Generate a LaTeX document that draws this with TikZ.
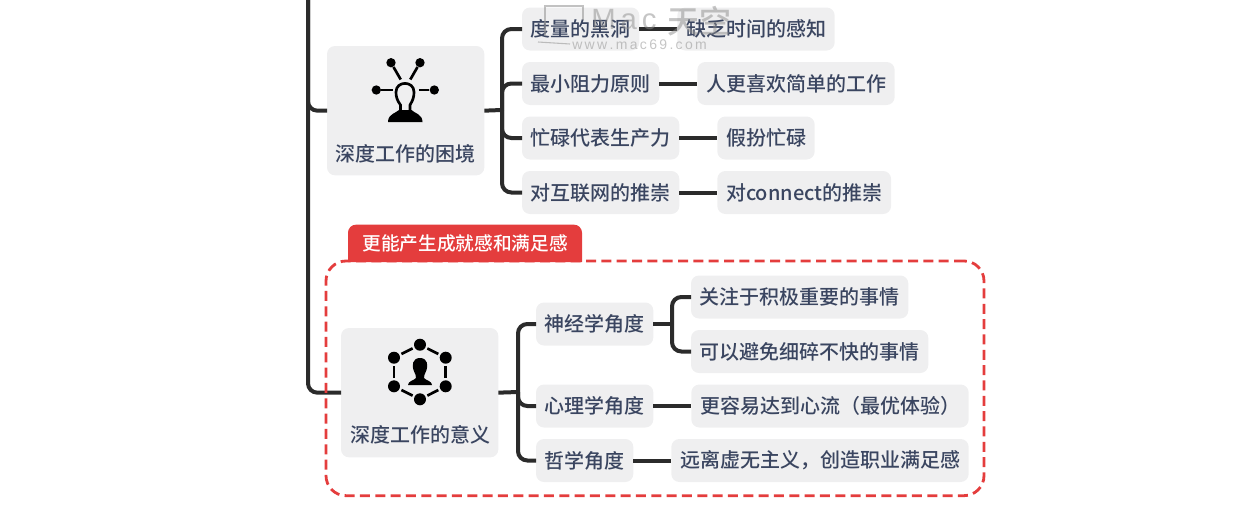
\documentclass[tikz,border=0pt]{standalone}
\usepackage{fontspec}
\setmainfont{Noto Sans CJK SC Medium}
\newfontfamily\markfont{Liberation Sans}
\usetikzlibrary{positioning,backgrounds}
\definecolor{inktext}{HTML}{3A4560}
\definecolor{boxgray}{HTML}{EFEFF0}
\definecolor{linkdark}{HTML}{2B2B2B}
\definecolor{tagred}{HTML}{E43D3D}
\tikzset{
  topicbox/.style={fill=boxgray,rounded corners=6pt,text=inktext,font=\fontsize{15}{18}\selectfont,inner xsep=6.5pt,inner ysep=0pt,outer sep=0pt,minimum height=32.25pt,anchor=west},
  rootbox/.style={fill=boxgray,rounded corners=6pt,outer sep=0pt,minimum width=118pt,minimum height=97pt,anchor=north west},
  roottext/.style={text=inktext,font=\fontsize{15}{18}\selectfont,inner sep=0pt},
  linkline/.style={draw=linkdark,line width=3pt,rounded corners=7pt},
  dot/.style={fill=black,circle,inner sep=0pt,minimum size=#1},
  hexline/.style={line width=2pt,shorten >=1.5pt,shorten <=1.5pt},
  marktext/.style={text=black!45,opacity=0.5,inner sep=0pt},
}
\begin{document}
\begin{tikzpicture}[x=0.75pt,y=-0.75pt,node distance=28.5pt]
  \useasboundingbox (0,0) rectangle (1252,518);
  % upper group
  \node[rootbox] (kun) at (327,46) {};
  \node[roottext] (kuntext) at (405.5,154) {深度工作的困境};
  \node[topicbox] (a1) at (522,29) {度量的黑洞};
  \node[topicbox,right=of a1] (b1) {缺乏时间的感知};
  \node[topicbox] (a2) at (522,83.5) {最小阻力原则};
  \node[topicbox,right=of a2] (b2) {人更喜欢简单的工作};
  \node[topicbox] (a3) at (522,138) {忙碌代表生产力};
  \node[topicbox,right=of a3] (b3) {假扮忙碌};
  \node[topicbox] (a4) at (522,192.5) {对互联网的推崇};
  \node[topicbox,right=of a4] (b4) {对connect的推崇};
  % lower group
  \node[rootbox] (yi) at (341,328) {};
  \node[roottext] (yitext) at (420,435) {深度工作的意义};
  \node[topicbox] (p1) at (536,324) {神经学角度};
  \node[topicbox] (q1) at (691,297) {关注于积极重要的事情};
  \node[topicbox] (q2) at (691,351.5) {可以避免细碎不快的事情};
  \node[topicbox] (p2) at (536,406) {心理学角度};
  \node[topicbox,right=of p2] (q3) {更容易达到心流（最优体验）};
  \node[topicbox] (p3) at (536,460.5) {哲学角度};
  \node[topicbox,right=of p3] (q4) {远离虚无主义，创造职业满足感};
  % connectors
  \coordinate (trunktop) at (308,0);
  \coordinate (kunfork) at (502,110);
  \coordinate (yifork) at (518,392);
  \coordinate (pfork) at (672,324);
  \draw[linkline] (trunktop) |- (kun.west);
  \draw[linkline] (trunktop) |- (yi.west);
  \draw[linkline] (kun.east) -- (kunfork);
  \draw[linkline] (kunfork) |- (a1.west);
  \draw[linkline] (kunfork) |- (a2.west);
  \draw[linkline] (kunfork) |- (a3.west);
  \draw[linkline] (kunfork) |- (a4.west);
  \draw[linkline] (a1) -- (b1);
  \draw[linkline] (a2) -- (b2);
  \draw[linkline] (a3) -- (b3);
  \draw[linkline] (a4) -- (b4);
  \draw[linkline] (yi.east) -- (yifork);
  \draw[linkline] (yifork) |- (p1.west);
  \draw[linkline] (yifork) |- (p2.west);
  \draw[linkline] (yifork) |- (p3.west);
  \draw[linkline] (p1.east) -- (pfork);
  \draw[linkline] (pfork) |- (q1.west);
  \draw[linkline] (pfork) |- (q2.west);
  \draw[linkline] (p2) -- (q3);
  \draw[linkline] (p3) -- (q4);
  % dashed frame and its tag
  \node[draw=tagred,line width=2.1pt,dash pattern=on 7.5pt off 4pt,rounded corners=15pt,outer sep=0pt,minimum width=493.5pt,minimum height=176pt,anchor=north west] (frame) at (326,261) {};
  \node[text=white,font=\fontsize{14}{17}\selectfont,minimum width=175.5pt,minimum height=28pt,inner sep=0pt,outer sep=0pt,anchor=south west] (tag) at (348,262) {更能产生成就感和满足感};
  \begin{scope}[on background layer]
    \fill[tagred] (tag.south west) [rounded corners=6pt] -- (tag.north west) -- (tag.north east) [sharp corners] -- (tag.south east) -- cycle;
  \end{scope}
  % icon of the upper box
  \node[dot=7pt] (k1) at (391,62.7) {};
  \node[dot=7pt] (k2) at (420,62.7) {};
  \node[dot=7pt] (k3) at (376.3,90) {};
  \node[dot=7pt] (k4) at (434.3,90) {};
  \coordinate (kh1) at (400.7,79.5);
  \coordinate (kh2) at (410.3,79.5);
  \coordinate (kh3) at (392.5,90);
  \coordinate (kh4) at (418.5,90);
  \draw[line width=2pt] (k1) -- (kh1);
  \draw[line width=2pt] (k2) -- (kh2);
  \draw[line width=2pt] (k3) -- (kh3);
  \draw[line width=2pt] (k4) -- (kh4);
  \draw[line width=2pt,fill=boxgray] (400.5,111) -- (400.5,105) .. controls (397,100) and (396,97) .. (396,92) .. controls (396,80.5) and (414,80.5) .. (414,92) .. controls (414,97) and (413,100) .. (410,105) -- (410,111);
  \fill (388,122) .. controls (388,114) and (396,113) .. (399,110) -- (411.5,110) .. controls (414,113) and (422.5,114) .. (422.5,122) -- cycle;
  % icon of the lower box
  \node[dot=9pt] (h1) at (420,344.7) {};
  \node[dot=9pt] (h2) at (445.7,357.7) {};
  \node[dot=9pt] (h3) at (445.7,386.3) {};
  \node[dot=9pt] (h4) at (420,399.3) {};
  \node[dot=9pt] (h5) at (394,386.3) {};
  \node[dot=9pt] (h6) at (394,357.7) {};
  \draw[hexline] (h1) -- (h2);
  \draw[hexline] (h2) -- (h3);
  \draw[hexline] (h3) -- (h4);
  \draw[hexline] (h4) -- (h5);
  \draw[hexline] (h5) -- (h6);
  \draw[hexline] (h6) -- (h1);
  \fill (420,358) .. controls (428,358) and (428,366) .. (426.5,370) .. controls (425,374) and (423.5,376) .. (424,378) .. controls (426,380.5) and (432,381) .. (432,385) -- (408,385) .. controls (408,381) and (414,380.5) .. (416,378) .. controls (416.5,376) and (415,374) .. (413.5,370) .. controls (412,366) and (412,358) .. (420,358) -- cycle;
  % watermark over the first row
  \draw[black!40,opacity=0.6,line width=0.8pt] (545,36) |- (583,6) -- (583,20);
  \draw[black!40,opacity=0.6,line width=0.8pt] (538,42) -- (570,44);
  \node[marktext,font=\markfont\fontsize{22}{24}\selectfont,anchor=west] (markname) at (591,20) {M\,a\,c};
  \node[marktext,font=\fontsize{24}{26}\selectfont\itshape,anchor=west] (markcn) at (667,21) {天空};
  \node[marktext,font=\markfont\fontsize{10.5}{12}\selectfont,anchor=west] (markurl) at (572,45) {w\,w\,w\,.\,m\,a\,c\,6\,9\,.\,c\,o\,m};
\end{tikzpicture}
\end{document}
